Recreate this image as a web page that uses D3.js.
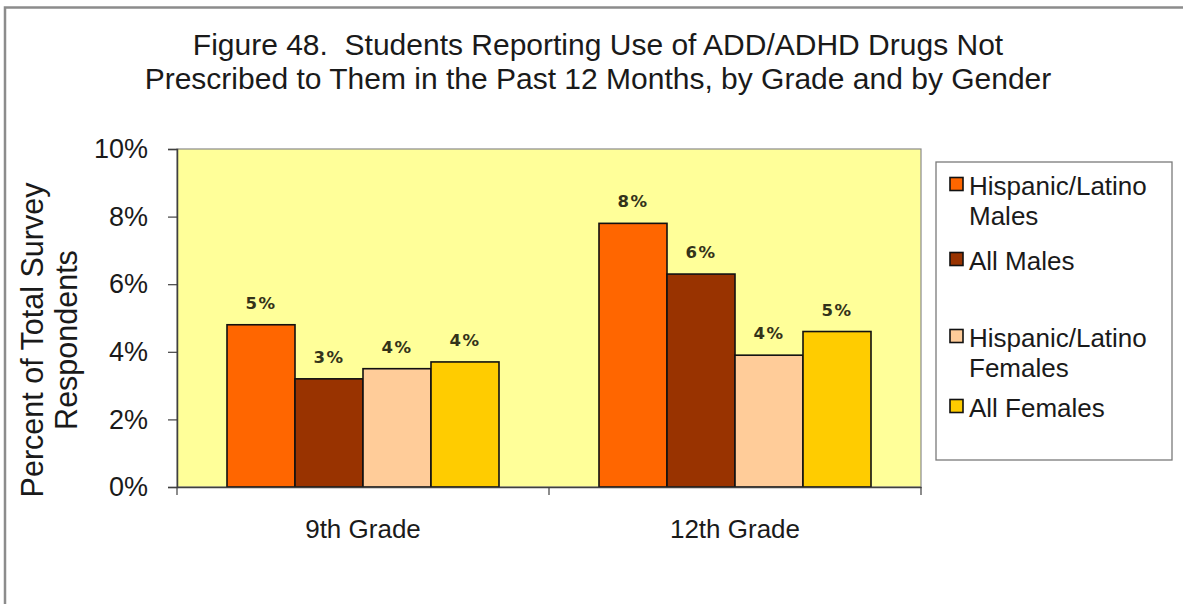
<!DOCTYPE html>
<html>
<head>
<meta charset="utf-8">
<script src="https://cdn.jsdelivr.net/npm/d3@7"></script>
<style>
  html, body { margin: 0; padding: 0; background: #fff; }
  svg { display: block; }
  text { font-family: "Liberation Sans", Arial, sans-serif; fill: #1a1a1a; }
</style>
</head>
<body>
<svg id="chart" width="1183" height="604"></svg>
<script>
const titleLines = ["Figure 48.  Students Reporting Use of ADD/ADHD Drugs Not",
                    "Prescribed to Them in the Past 12 Months, by Grade and by Gender"];
const grades = ["9th Grade", "12th Grade"];
const series = ["Hispanic/Latino Males", "All Males", "Hispanic/Latino Females", "All Females"];
const legendLines = [["Hispanic/Latino", "Males"], ["All Males"], ["Hispanic/Latino", "Females"], ["All Females"]];
const hispanicMales = [0.048, 0.078];
const allMales = [0.032, 0.063];
const hispanicFemales = [0.035, 0.039];
const allFemales = [0.037, 0.046];
const yTicks = [0, 0.02, 0.04, 0.06, 0.08, 0.10];
const yTitle = ["Percent of Total Survey", "Respondents"];
const colors = ["#FF6600", "#993300", "#FFCC99", "#FFCC00"];

const values = [hispanicMales, allMales, hispanicFemales, allFemales];
const data = [];
grades.forEach((g, gi) => series.forEach((s, si) => data.push({grade: g, series: s, value: values[si][gi], si})));

const svg = d3.select("#chart");
const W = 1183, H = 604;
const plot = {left: 177, right: 921, top: 149, bottom: 487};

svg.append("rect").attr("width", W).attr("height", H).attr("fill", "#fff");
// outer frame (right/bottom edges lie outside the picture)
svg.append("rect").attr("x", 5).attr("y", 7.5).attr("width", W + 20).attr("height", H + 20)
  .attr("fill", "none").attr("stroke", "#8c8c8c").attr("stroke-width", 2.5);

// title
svg.append("g").selectAll("text").data(titleLines).join("text")
  .attr("x", 598).attr("y", (d, i) => 55 + i * 34)
  .attr("text-anchor", "middle").style("font-size", "30px").style("white-space", "pre")
  .attr("xml:space", "preserve").text(d => d);

const x = d3.scaleBand().domain(grades).range([plot.left, plot.right]);
const xs = d3.scaleBand().domain(series).range([50, x.bandwidth() - 50]);
const y = d3.scaleLinear().domain([0, 0.10]).range([plot.bottom, plot.top]);

// plot area
svg.append("rect").attr("x", plot.left).attr("y", plot.top)
  .attr("width", plot.right - plot.left).attr("height", plot.bottom - plot.top)
  .attr("fill", "#FFFF99").attr("stroke", "#8a8a8a").attr("stroke-width", 1.2);

// bars
svg.append("g").selectAll("rect").data(data).join("rect")
  .attr("x", d => x(d.grade) + xs(d.series))
  .attr("y", d => y(d.value))
  .attr("width", xs.bandwidth())
  .attr("height", d => y(0) - y(d.value))
  .attr("fill", d => colors[d.si])
  .attr("stroke", "#111").attr("stroke-width", 1.6);

// data labels
svg.append("g").selectAll("text").data(data).join("text")
  .attr("x", d => x(d.grade) + xs(d.series) + xs.bandwidth() / 2)
  .attr("y", d => y(d.value) - 16)
  .attr("text-anchor", "middle")
  .style("font-family", "'DejaVu Sans', Verdana, sans-serif")
  .style("font-weight", "bold").style("font-size", "16.5px").style("letter-spacing", "1.5px")
  .style("fill", "#33331a")
  .text(d => d3.format(".0%")(d.value));

// y axis
const yAxis = svg.append("g").attr("transform", `translate(${plot.left},0)`)
  .call(d3.axisLeft(y).tickValues(yTicks).tickFormat(d3.format(".0%")).tickSize(9).tickPadding(20));
yAxis.select(".domain").attr("stroke", "#404040").attr("stroke-width", 1.5);
yAxis.selectAll(".tick line").attr("stroke", "#404040").attr("stroke-width", 1.2);
yAxis.selectAll(".tick text").style("font-size", "27px").style("font-family", "'Liberation Sans', Arial, sans-serif").attr("fill", "#1a1a1a");

// x axis
const xAxis = svg.append("g").attr("transform", `translate(0,${plot.bottom})`)
  .call(d3.axisBottom(x).tickSize(0).tickPadding(33));
xAxis.select(".domain").attr("stroke", "#404040").attr("stroke-width", 1.5);
xAxis.selectAll(".tick text").style("font-size", "26px").style("font-family", "'Liberation Sans', Arial, sans-serif").attr("fill", "#1a1a1a");
const bounds = grades.map(g => x(g)).concat([x(grades[grades.length - 1]) + x.bandwidth()]);
xAxis.selectAll(".bound").data(bounds).join("line").attr("class", "bound")
  .attr("x1", d => d).attr("x2", d => d).attr("y1", 0).attr("y2", 8)
  .attr("stroke", "#404040").attr("stroke-width", 1.2);

// y title
svg.append("g").attr("transform", "translate(0,340) rotate(-90)")
  .selectAll("text").data(yTitle).join("text")
  .attr("x", 0).attr("y", (d, i) => 43 + i * 34)
  .attr("text-anchor", "middle").style("font-size", "30.5px").text(d => d);

// legend
const lg = svg.append("g");
lg.append("rect").attr("x", 936).attr("y", 162).attr("width", 236).attr("height", 298)
  .attr("fill", "#fff").attr("stroke", "#7a7a7a").attr("stroke-width", 1.3);
const itemBase = [195, 270, 347, 417];
const items = lg.selectAll("g.item").data(series).join("g").attr("class", "item")
  .attr("transform", (d, i) => `translate(0,${itemBase[i]})`);
items.append("rect").attr("x", 950).attr("y", -17.5).attr("width", 13).attr("height", 13)
  .attr("fill", (d, i) => colors[i]).attr("stroke", "#111").attr("stroke-width", 1.6);
items.each(function(d, i) {
  d3.select(this).selectAll("text").data(legendLines[i]).join("text")
    .attr("x", 969).attr("y", (t, j) => j * 30)
    .style("font-size", "26px").text(t => t);
});
</script>
</body>
</html>
